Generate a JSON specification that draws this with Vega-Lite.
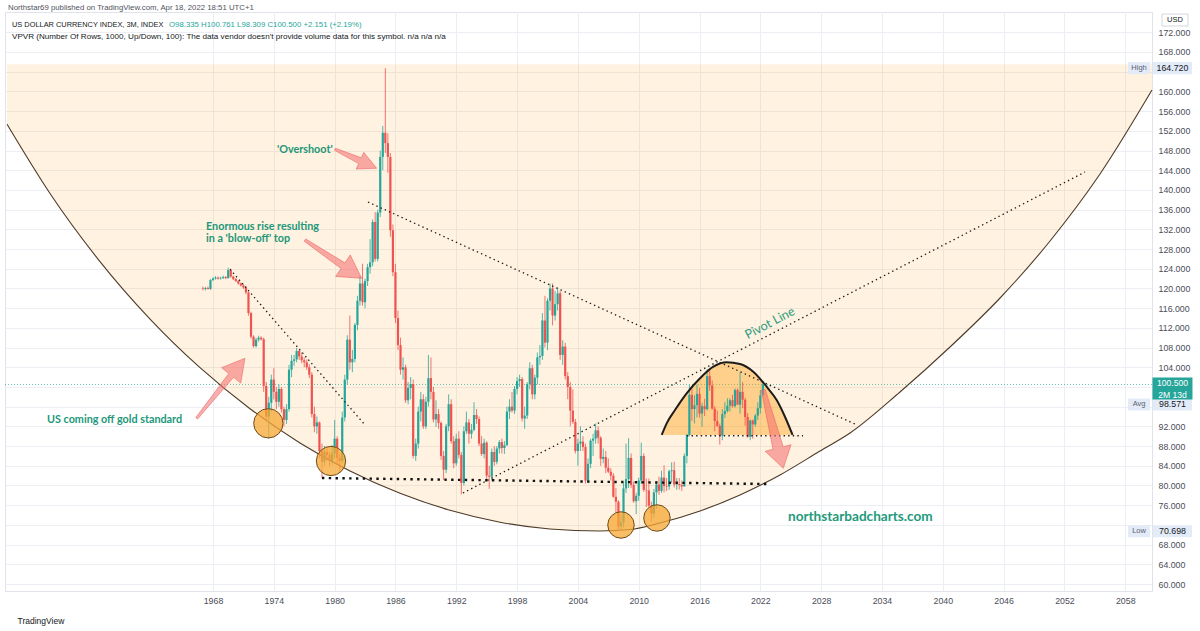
{
  "$schema": "https://vega.github.io/schema/vega-lite/v6.json",
  "width": 1147,
  "height": 579,
  "autosize": {"type": "none"},
  "padding": {"left": 5, "top": 12, "right": 48, "bottom": 40},
  "background": "#ffffff",
  "config": {
    "view": {"stroke": "#e0e3eb", "strokeWidth": 1},
    "font": "Liberation Sans",
    "axis": {"labelOverlap": false, "labelBound": false, "labelFlush": false}
  },
  "title": {
    "text": "Northstar69 published on TradingView.com, Apr 18, 2022 18:51 UTC+1",
    "anchor": "start",
    "frame": "group",
    "fontSize": 7.8,
    "fontWeight": "normal",
    "font": "Liberation Sans",
    "color": "#50535e",
    "offset": 0,
    "dx": 3
  },
  "datasets": {
    "arc": [
      {"t": 1947.68, "p": 153.32}, {"t": 1951.92, "p": 139.27}, {"t": 1956.85, "p": 125.45},
      {"t": 1961.79, "p": 113.78}, {"t": 1966.72, "p": 103.91}, {"t": 1971.65, "p": 95.59},
      {"t": 1976.58, "p": 88.64}, {"t": 1981.52, "p": 82.94}, {"t": 1986.45, "p": 78.41},
      {"t": 1991.38, "p": 74.96}, {"t": 1996.32, "p": 72.55}, {"t": 2001.25, "p": 71.17},
      {"t": 2006.18, "p": 70.76}, {"t": 2009.14, "p": 71.06}, {"t": 2012.10, "p": 72.38},
      {"t": 2016.05, "p": 74.82}, {"t": 2019.99, "p": 78.07}, {"t": 2023.94, "p": 82.13},
      {"t": 2027.89, "p": 87.00}, {"t": 2030.85, "p": 90.65}, {"t": 2035.78, "p": 98.98},
      {"t": 2040.71, "p": 108.11}, {"t": 2045.65, "p": 118.06}, {"t": 2050.58, "p": 129.63},
      {"t": 2055.51, "p": 143.23}, {"t": 2060.64, "p": 160.28}
    ],
    "dome": [
      {"t": 2012.27, "p": 90.25}, {"t": 2012.76, "p": 92.62}, {"t": 2013.58, "p": 95.32},
      {"t": 2014.73, "p": 98.71}, {"t": 2016.05, "p": 101.76}, {"t": 2017.36, "p": 104.11},
      {"t": 2018.67, "p": 105.01}, {"t": 2019.99, "p": 104.66}, {"t": 2021.30, "p": 103.10},
      {"t": 2022.62, "p": 100.05}, {"t": 2023.61, "p": 97.35}, {"t": 2024.43, "p": 93.96},
      {"t": 2025.18, "p": 90.25}
    ],
    "candles": [
      {"t": 1967, "o": 120.0, "h": 120.4, "l": 119.6, "c": 119.9},
      {"t": 1967.25, "o": 119.9, "h": 120.3, "l": 119.6, "c": 120.1},
      {"t": 1967.5, "o": 120.1, "h": 120.4, "l": 119.8, "c": 119.9},
      {"t": 1967.75, "o": 119.9, "h": 121.9, "l": 119.7, "c": 121.7},
      {"t": 1968, "o": 121.7, "h": 122.3, "l": 121.5, "c": 122.0},
      {"t": 1968.25, "o": 122.0, "h": 122.5, "l": 121.8, "c": 122.2},
      {"t": 1968.5, "o": 122.2, "h": 122.4, "l": 121.8, "c": 122.0},
      {"t": 1968.75, "o": 122.0, "h": 122.4, "l": 121.8, "c": 122.1},
      {"t": 1969, "o": 122.1, "h": 122.6, "l": 121.9, "c": 122.3},
      {"t": 1969.25, "o": 122.3, "h": 122.5, "l": 121.9, "c": 122.1},
      {"t": 1969.5, "o": 122.1, "h": 124.2, "l": 122.0, "c": 123.7},
      {"t": 1969.75, "o": 123.7, "h": 124.0, "l": 122.2, "c": 122.4},
      {"t": 1970, "o": 122.4, "h": 122.6, "l": 121.7, "c": 121.9},
      {"t": 1970.25, "o": 121.9, "h": 122.1, "l": 121.3, "c": 121.5},
      {"t": 1970.5, "o": 121.5, "h": 121.7, "l": 120.8, "c": 121.0},
      {"t": 1970.75, "o": 121.0, "h": 121.2, "l": 120.4, "c": 120.6},
      {"t": 1971, "o": 120.6, "h": 120.9, "l": 119.9, "c": 120.2},
      {"t": 1971.25, "o": 120.2, "h": 120.5, "l": 118.8, "c": 119.2},
      {"t": 1971.5, "o": 119.2, "h": 119.4, "l": 114.5, "c": 115.0},
      {"t": 1971.75, "o": 115.0, "h": 115.3, "l": 109.8, "c": 110.2},
      {"t": 1972, "o": 110.2, "h": 110.5, "l": 108.0, "c": 108.3},
      {"t": 1972.25, "o": 108.3, "h": 110.0, "l": 108.0, "c": 109.6},
      {"t": 1972.5, "o": 109.6, "h": 110.4, "l": 109.2, "c": 110.0},
      {"t": 1972.75, "o": 110.0, "h": 110.3, "l": 109.4, "c": 109.7},
      {"t": 1973, "o": 109.7, "h": 110.0, "l": 99.0, "c": 100.2},
      {"t": 1973.25, "o": 100.2, "h": 101.0, "l": 93.0, "c": 94.0},
      {"t": 1973.5, "o": 94.0, "h": 98.0, "l": 89.5, "c": 96.8},
      {"t": 1973.75, "o": 96.8, "h": 102.5, "l": 95.0, "c": 101.5},
      {"t": 1974, "o": 101.5, "h": 103.8, "l": 97.5, "c": 99.0},
      {"t": 1974.25, "o": 99.0, "h": 100.0, "l": 95.5, "c": 97.0},
      {"t": 1974.5, "o": 97.0, "h": 100.5, "l": 96.0, "c": 99.6},
      {"t": 1974.75, "o": 99.6, "h": 100.0, "l": 94.8, "c": 95.5},
      {"t": 1975, "o": 95.5, "h": 96.0, "l": 92.0, "c": 93.3},
      {"t": 1975.25, "o": 93.3, "h": 96.5, "l": 92.5, "c": 95.5},
      {"t": 1975.5, "o": 95.5, "h": 104.5, "l": 95.0, "c": 103.5},
      {"t": 1975.75, "o": 103.5, "h": 106.5, "l": 102.0, "c": 105.3},
      {"t": 1976, "o": 105.3, "h": 106.5, "l": 104.3, "c": 105.6},
      {"t": 1976.25, "o": 105.6, "h": 107.9, "l": 105.0, "c": 107.3},
      {"t": 1976.5, "o": 107.3, "h": 107.6, "l": 105.5, "c": 106.2},
      {"t": 1976.75, "o": 106.2, "h": 107.0, "l": 104.8, "c": 105.4},
      {"t": 1977, "o": 105.4, "h": 106.0, "l": 104.0, "c": 105.0},
      {"t": 1977.25, "o": 105.0, "h": 105.6, "l": 103.5, "c": 104.0},
      {"t": 1977.5, "o": 104.0, "h": 104.6, "l": 101.8, "c": 102.5},
      {"t": 1977.75, "o": 102.5, "h": 103.0, "l": 93.8, "c": 94.5},
      {"t": 1978, "o": 94.5, "h": 96.0, "l": 90.8, "c": 92.0},
      {"t": 1978.25, "o": 92.0, "h": 94.0, "l": 90.5, "c": 92.8},
      {"t": 1978.5, "o": 92.8, "h": 93.0, "l": 85.5, "c": 87.0},
      {"t": 1978.75, "o": 87.0, "h": 88.5, "l": 81.5, "c": 84.8},
      {"t": 1979, "o": 84.8, "h": 88.0, "l": 84.0, "c": 86.8},
      {"t": 1979.25, "o": 86.8, "h": 87.5, "l": 85.0, "c": 86.2},
      {"t": 1979.5, "o": 86.2, "h": 86.8, "l": 83.8, "c": 85.0},
      {"t": 1979.75, "o": 85.0, "h": 88.2, "l": 84.2, "c": 86.5},
      {"t": 1980, "o": 86.5, "h": 93.3, "l": 85.5, "c": 89.5},
      {"t": 1980.25, "o": 89.5, "h": 90.0, "l": 84.3, "c": 85.6},
      {"t": 1980.5, "o": 85.6, "h": 86.5, "l": 82.6, "c": 85.0},
      {"t": 1980.75, "o": 85.0, "h": 95.0, "l": 84.5, "c": 93.8},
      {"t": 1981, "o": 93.8, "h": 102.5, "l": 93.0, "c": 101.5},
      {"t": 1981.25, "o": 101.5, "h": 110.5, "l": 100.5, "c": 109.6},
      {"t": 1981.5, "o": 109.6, "h": 114.5, "l": 103.5, "c": 105.0},
      {"t": 1981.75, "o": 105.0, "h": 107.5, "l": 103.0, "c": 105.7},
      {"t": 1982, "o": 105.7, "h": 113.0, "l": 105.0, "c": 112.6},
      {"t": 1982.25, "o": 112.6, "h": 118.5, "l": 111.5, "c": 117.5},
      {"t": 1982.5, "o": 117.5, "h": 122.5, "l": 116.5, "c": 121.0},
      {"t": 1982.75, "o": 121.0, "h": 125.0, "l": 116.5, "c": 117.2},
      {"t": 1983, "o": 117.2, "h": 122.0, "l": 116.0, "c": 121.5},
      {"t": 1983.25, "o": 121.5, "h": 125.0, "l": 120.5, "c": 124.3},
      {"t": 1983.5, "o": 124.3, "h": 130.0, "l": 123.0, "c": 125.3},
      {"t": 1983.75, "o": 125.3, "h": 134.0, "l": 124.5, "c": 133.5},
      {"t": 1984, "o": 133.5, "h": 135.5, "l": 125.5, "c": 126.0},
      {"t": 1984.25, "o": 126.0, "h": 136.0, "l": 125.5, "c": 135.4},
      {"t": 1984.5, "o": 135.4, "h": 148.0, "l": 134.5, "c": 146.7},
      {"t": 1984.75, "o": 146.7, "h": 153.0, "l": 144.0, "c": 151.6},
      {"t": 1985, "o": 151.6, "h": 164.72, "l": 147.5, "c": 149.5},
      {"t": 1985.25, "o": 149.5, "h": 151.5, "l": 143.5, "c": 146.7},
      {"t": 1985.5, "o": 146.7, "h": 147.5, "l": 130.5, "c": 131.8},
      {"t": 1985.75, "o": 131.8, "h": 133.0, "l": 122.5, "c": 123.3},
      {"t": 1986, "o": 123.3, "h": 125.0, "l": 113.0, "c": 114.0},
      {"t": 1986.25, "o": 114.0, "h": 115.5, "l": 107.5, "c": 108.5},
      {"t": 1986.5, "o": 108.5, "h": 110.0, "l": 102.5, "c": 103.5},
      {"t": 1986.75, "o": 103.5, "h": 106.0, "l": 101.5, "c": 104.0},
      {"t": 1987, "o": 104.0, "h": 104.5, "l": 96.8, "c": 97.3},
      {"t": 1987.25, "o": 97.3, "h": 101.0, "l": 96.5, "c": 99.8},
      {"t": 1987.5, "o": 99.8, "h": 102.0, "l": 97.5, "c": 100.6},
      {"t": 1987.75, "o": 100.6, "h": 101.5, "l": 85.5, "c": 86.0},
      {"t": 1988, "o": 86.0, "h": 89.5, "l": 85.0, "c": 88.5},
      {"t": 1988.25, "o": 88.5, "h": 96.0, "l": 87.5, "c": 95.0},
      {"t": 1988.5, "o": 95.0, "h": 99.0, "l": 93.0, "c": 97.5},
      {"t": 1988.75, "o": 97.5, "h": 98.5, "l": 91.5, "c": 92.0},
      {"t": 1989, "o": 92.0, "h": 98.0, "l": 91.5, "c": 97.0},
      {"t": 1989.25, "o": 97.0, "h": 106.5, "l": 96.0, "c": 101.8},
      {"t": 1989.5, "o": 101.8, "h": 106.0, "l": 97.5, "c": 99.0},
      {"t": 1989.75, "o": 99.0, "h": 100.0, "l": 92.8, "c": 93.4},
      {"t": 1990, "o": 93.4, "h": 97.3, "l": 91.9, "c": 94.5},
      {"t": 1990.25, "o": 94.5, "h": 95.5, "l": 91.5, "c": 92.7},
      {"t": 1990.5, "o": 92.7, "h": 93.0, "l": 85.2, "c": 86.0},
      {"t": 1990.75, "o": 86.0, "h": 87.0, "l": 81.1, "c": 83.2},
      {"t": 1991, "o": 83.2, "h": 92.5, "l": 82.5, "c": 92.0},
      {"t": 1991.25, "o": 92.0, "h": 98.5, "l": 91.0, "c": 96.5},
      {"t": 1991.5, "o": 96.5, "h": 97.5, "l": 88.5, "c": 89.0},
      {"t": 1991.75, "o": 89.0, "h": 90.0, "l": 83.5, "c": 84.5},
      {"t": 1992, "o": 84.5, "h": 90.5, "l": 84.0, "c": 89.5},
      {"t": 1992.25, "o": 89.5, "h": 91.0, "l": 85.5, "c": 86.2},
      {"t": 1992.5, "o": 86.2, "h": 86.8, "l": 78.2, "c": 80.5},
      {"t": 1992.75, "o": 80.5, "h": 92.0, "l": 80.0, "c": 91.0},
      {"t": 1993, "o": 91.0, "h": 95.0, "l": 90.5, "c": 92.8},
      {"t": 1993.25, "o": 92.8, "h": 93.5, "l": 88.5, "c": 90.5},
      {"t": 1993.5, "o": 90.5, "h": 92.5, "l": 89.5, "c": 91.3},
      {"t": 1993.75, "o": 91.3, "h": 96.9, "l": 91.0, "c": 94.3},
      {"t": 1994, "o": 94.3, "h": 95.5, "l": 92.5, "c": 93.5},
      {"t": 1994.25, "o": 93.5, "h": 94.0, "l": 88.0, "c": 88.5},
      {"t": 1994.5, "o": 88.5, "h": 90.0, "l": 86.0, "c": 86.4},
      {"t": 1994.75, "o": 86.4, "h": 89.5, "l": 85.5, "c": 88.7},
      {"t": 1995, "o": 88.7, "h": 89.0, "l": 81.0, "c": 82.0},
      {"t": 1995.25, "o": 82.0, "h": 84.0, "l": 79.3, "c": 81.8},
      {"t": 1995.5, "o": 81.8, "h": 87.5, "l": 81.0, "c": 86.8},
      {"t": 1995.75, "o": 86.8, "h": 88.0, "l": 84.0, "c": 84.8},
      {"t": 1996, "o": 84.8, "h": 88.0, "l": 84.3, "c": 87.5},
      {"t": 1996.25, "o": 87.5, "h": 89.2, "l": 86.5, "c": 88.8},
      {"t": 1996.5, "o": 88.8, "h": 89.5, "l": 86.5, "c": 87.6},
      {"t": 1996.75, "o": 87.6, "h": 89.0, "l": 86.4, "c": 88.2},
      {"t": 1997, "o": 88.2, "h": 96.0, "l": 88.0, "c": 95.0},
      {"t": 1997.25, "o": 95.0, "h": 97.5, "l": 93.5, "c": 96.0},
      {"t": 1997.5, "o": 96.0, "h": 99.0, "l": 94.8, "c": 95.2},
      {"t": 1997.75, "o": 95.2, "h": 100.2, "l": 94.5, "c": 99.6},
      {"t": 1998, "o": 99.6, "h": 102.0, "l": 98.5, "c": 101.2},
      {"t": 1998.25, "o": 101.2, "h": 102.5, "l": 100.0, "c": 101.6},
      {"t": 1998.5, "o": 101.6, "h": 102.0, "l": 93.0, "c": 93.6},
      {"t": 1998.75, "o": 93.6, "h": 96.0, "l": 91.5, "c": 94.2},
      {"t": 1999, "o": 94.2, "h": 101.0, "l": 93.5, "c": 100.6},
      {"t": 1999.25, "o": 100.6, "h": 105.0, "l": 99.5, "c": 103.8},
      {"t": 1999.5, "o": 103.8, "h": 104.5, "l": 97.5, "c": 98.5},
      {"t": 1999.75, "o": 98.5, "h": 102.5, "l": 97.5, "c": 101.9},
      {"t": 2000, "o": 101.9, "h": 107.0, "l": 100.5, "c": 106.0},
      {"t": 2000.25, "o": 106.0, "h": 108.5, "l": 104.5, "c": 106.3},
      {"t": 2000.5, "o": 106.3, "h": 115.0, "l": 105.5, "c": 113.5},
      {"t": 2000.75, "o": 113.5, "h": 118.5, "l": 108.0, "c": 109.0},
      {"t": 2001, "o": 109.0, "h": 118.0, "l": 107.5, "c": 117.5},
      {"t": 2001.25, "o": 117.5, "h": 121.0, "l": 115.5, "c": 120.0},
      {"t": 2001.5, "o": 120.0, "h": 121.0, "l": 112.5, "c": 114.5},
      {"t": 2001.75, "o": 114.5, "h": 119.5, "l": 113.5, "c": 116.8},
      {"t": 2002, "o": 116.8, "h": 120.2, "l": 115.5, "c": 119.0},
      {"t": 2002.25, "o": 119.0, "h": 119.5, "l": 105.5, "c": 106.5},
      {"t": 2002.5, "o": 106.5, "h": 109.5, "l": 104.5, "c": 108.2},
      {"t": 2002.75, "o": 108.2, "h": 109.0, "l": 101.5, "c": 102.2},
      {"t": 2003, "o": 102.2, "h": 103.0, "l": 97.5, "c": 100.0},
      {"t": 2003.25, "o": 100.0, "h": 101.0, "l": 92.0, "c": 95.2},
      {"t": 2003.5, "o": 95.2, "h": 99.5, "l": 92.5, "c": 92.9},
      {"t": 2003.75, "o": 92.9, "h": 93.5, "l": 86.5, "c": 87.0},
      {"t": 2004, "o": 87.0, "h": 89.5, "l": 84.0, "c": 88.5},
      {"t": 2004.25, "o": 88.5, "h": 92.0, "l": 87.0, "c": 88.9},
      {"t": 2004.5, "o": 88.9, "h": 90.0, "l": 87.0, "c": 87.8},
      {"t": 2004.75, "o": 87.8, "h": 88.5, "l": 80.4, "c": 81.0},
      {"t": 2005, "o": 81.0, "h": 85.5, "l": 80.5, "c": 84.4},
      {"t": 2005.25, "o": 84.4, "h": 89.5, "l": 83.5, "c": 89.1},
      {"t": 2005.5, "o": 89.1, "h": 90.5, "l": 86.0, "c": 89.5},
      {"t": 2005.75, "o": 89.5, "h": 92.6, "l": 88.5, "c": 91.2},
      {"t": 2006, "o": 91.2, "h": 92.0, "l": 88.5, "c": 89.7},
      {"t": 2006.25, "o": 89.7, "h": 90.0, "l": 84.0, "c": 85.4},
      {"t": 2006.5, "o": 85.4, "h": 87.5, "l": 84.5, "c": 85.8},
      {"t": 2006.75, "o": 85.8, "h": 87.0, "l": 82.5, "c": 83.6},
      {"t": 2007, "o": 83.6, "h": 85.5, "l": 82.5, "c": 82.8},
      {"t": 2007.25, "o": 82.8, "h": 83.5, "l": 81.0, "c": 82.0},
      {"t": 2007.5, "o": 82.0, "h": 82.5, "l": 77.5, "c": 77.7},
      {"t": 2007.75, "o": 77.7, "h": 79.5, "l": 74.5, "c": 76.7},
      {"t": 2008, "o": 76.7, "h": 77.0, "l": 70.698, "c": 71.7},
      {"t": 2008.25, "o": 71.7, "h": 74.0, "l": 71.0, "c": 72.5},
      {"t": 2008.5, "o": 72.5, "h": 80.5, "l": 71.5, "c": 79.4},
      {"t": 2008.75, "o": 79.4, "h": 88.5, "l": 78.5, "c": 81.3},
      {"t": 2009, "o": 81.3, "h": 89.6, "l": 79.5, "c": 85.6},
      {"t": 2009.25, "o": 85.6, "h": 86.5, "l": 79.5, "c": 80.1},
      {"t": 2009.5, "o": 80.1, "h": 80.8, "l": 76.5, "c": 76.8},
      {"t": 2009.75, "o": 76.8, "h": 78.5, "l": 74.2, "c": 77.9},
      {"t": 2010, "o": 77.9, "h": 81.6, "l": 76.9, "c": 81.0},
      {"t": 2010.25, "o": 81.0, "h": 88.7, "l": 80.3, "c": 86.0},
      {"t": 2010.5, "o": 86.0, "h": 86.5, "l": 78.7, "c": 79.1},
      {"t": 2010.75, "o": 79.1, "h": 81.4, "l": 75.6, "c": 79.0},
      {"t": 2011, "o": 79.0, "h": 81.4, "l": 75.6, "c": 75.9},
      {"t": 2011.25, "o": 75.9, "h": 76.7, "l": 72.7, "c": 74.3},
      {"t": 2011.5, "o": 74.3, "h": 79.3, "l": 73.4, "c": 78.6},
      {"t": 2011.75, "o": 78.6, "h": 80.9, "l": 75.3, "c": 80.2},
      {"t": 2012, "o": 80.2, "h": 81.8, "l": 78.1, "c": 78.9},
      {"t": 2012.25, "o": 78.9, "h": 83.0, "l": 78.5, "c": 81.6},
      {"t": 2012.5, "o": 81.6, "h": 84.1, "l": 78.6, "c": 79.9},
      {"t": 2012.75, "o": 79.9, "h": 81.5, "l": 78.9, "c": 79.8},
      {"t": 2013, "o": 79.8, "h": 83.2, "l": 79.1, "c": 82.9},
      {"t": 2013.25, "o": 82.9, "h": 84.7, "l": 80.6, "c": 83.1},
      {"t": 2013.5, "o": 83.1, "h": 84.8, "l": 79.6, "c": 80.2},
      {"t": 2013.75, "o": 80.2, "h": 81.5, "l": 79.1, "c": 80.3},
      {"t": 2014, "o": 80.3, "h": 81.5, "l": 79.2, "c": 80.1},
      {"t": 2014.25, "o": 80.1, "h": 81.0, "l": 78.9, "c": 79.8},
      {"t": 2014.5, "o": 79.8, "h": 86.5, "l": 79.8, "c": 86.0},
      {"t": 2014.75, "o": 86.0, "h": 90.4, "l": 84.5, "c": 90.3},
      {"t": 2015, "o": 90.3, "h": 100.4, "l": 90.0, "c": 98.4},
      {"t": 2015.25, "o": 98.4, "h": 100.0, "l": 93.1, "c": 95.5},
      {"t": 2015.5, "o": 95.5, "h": 98.3, "l": 92.6, "c": 96.3},
      {"t": 2015.75, "o": 96.3, "h": 100.5, "l": 93.8, "c": 98.6},
      {"t": 2016, "o": 98.6, "h": 99.8, "l": 93.8, "c": 94.6},
      {"t": 2016.25, "o": 94.6, "h": 96.8, "l": 91.9, "c": 96.1},
      {"t": 2016.5, "o": 96.1, "h": 97.6, "l": 94.1, "c": 95.5},
      {"t": 2016.75, "o": 95.5, "h": 103.6, "l": 95.2, "c": 102.2},
      {"t": 2017, "o": 102.2, "h": 103.8, "l": 99.2, "c": 100.3},
      {"t": 2017.25, "o": 100.3, "h": 101.3, "l": 95.4, "c": 95.6},
      {"t": 2017.5, "o": 95.6, "h": 96.1, "l": 91.0, "c": 93.1},
      {"t": 2017.75, "o": 93.1, "h": 95.2, "l": 91.9, "c": 92.1},
      {"t": 2018, "o": 92.1, "h": 92.6, "l": 88.3, "c": 90.1},
      {"t": 2018.25, "o": 90.1, "h": 95.5, "l": 89.2, "c": 94.5},
      {"t": 2018.5, "o": 94.5, "h": 96.9, "l": 93.7, "c": 95.1},
      {"t": 2018.75, "o": 95.1, "h": 97.7, "l": 94.8, "c": 96.2},
      {"t": 2019, "o": 96.2, "h": 97.7, "l": 95.0, "c": 97.3},
      {"t": 2019.25, "o": 97.3, "h": 98.4, "l": 95.8, "c": 96.1},
      {"t": 2019.5, "o": 96.1, "h": 99.7, "l": 95.8, "c": 99.4},
      {"t": 2019.75, "o": 99.4, "h": 99.7, "l": 96.4, "c": 96.4},
      {"t": 2020, "o": 96.4, "h": 103.0, "l": 94.6, "c": 99.0},
      {"t": 2020.25, "o": 99.0, "h": 101.0, "l": 95.7, "c": 97.4},
      {"t": 2020.5, "o": 97.4, "h": 97.8, "l": 92.1, "c": 93.9},
      {"t": 2020.75, "o": 93.9, "h": 94.7, "l": 89.7, "c": 89.9},
      {"t": 2021, "o": 89.9, "h": 93.4, "l": 89.2, "c": 93.2},
      {"t": 2021.25, "o": 93.2, "h": 93.4, "l": 89.5, "c": 92.4},
      {"t": 2021.5, "o": 92.4, "h": 94.5, "l": 91.9, "c": 94.2},
      {"t": 2021.75, "o": 94.2, "h": 96.9, "l": 93.3, "c": 95.7},
      {"t": 2022, "o": 95.7, "h": 99.4, "l": 94.6, "c": 98.3},
      {"t": 2022.25, "o": 98.335, "h": 100.761, "l": 98.309, "c": 100.5}
    ]
  },
  "layer": [
    {
      "data": {"name": "candles"},
      "mark": {"type": "rule", "strokeWidth": 0, "opacity": 0},
      "encoding": {
        "x": {
          "field": "t", "type": "quantitative",
          "scale": {"domain": [1947.479, 2060.64], "nice": false, "zero": false},
          "axis": {
            "values": [1968, 1974, 1980, 1986, 1992, 1998, 2004, 2010, 2016, 2022, 2028, 2034, 2040, 2046, 2052, 2058],
            "tickCount": 100,
            "format": "d",
            "title": "TradingView",
            "titleAnchor": "start",
            "titleAlign": "left",
            "titleBaseline": "middle",
            "titleX": 12,
            "titleY": 29,
            "titleFont": "Liberation Sans",
            "titleFontSize": 8.5,
            "titleFontWeight": "normal",
            "titleColor": "#131722",
            "labelFont": "Liberation Sans",
            "labelFontSize": 8.8,
            "labelColor": "#4a4d57",
            "labelPadding": 5,
            "labelOverlap": false,
            "ticks": false,
            "domainColor": "#e0e3eb",
            "grid": true,
            "gridColor": "#eceef3"
          }
        },
        "y": {
          "field": "l", "type": "quantitative",
          "scale": {"domain": [58.579, 176.12], "nice": false, "zero": false},
          "axis": {
            "orient": "right",
            "values": [60, 64, 68, 72, 76, 80, 84, 88, 92, 96, 100, 104, 108, 112, 116, 120, 124, 128, 132, 136, 140, 144, 148, 152, 156, 160, 164, 168, 172],
            "tickCount": 100,
            "format": ".3f",
            "labelExpr": "indexof([72, 96, 100, 164], datum.value) >= 0 ? '' : datum.label",
            "title": "",
            "labelFont": "Liberation Sans",
            "labelFontSize": 8.8,
            "labelColor": "#4a4d57",
            "labelPadding": 6,
            "labelOverlap": false,
            "ticks": false,
            "domainColor": "#e0e3eb",
            "grid": true,
            "gridColor": "#eceef3"
          }
        },
        "y2": {"field": "h"}
      }
    },
    {
      "data": {"name": "arc"},
      "mark": {"type": "area", "color": "#ff9800", "opacity": 0.12, "interpolate": "monotone"},
      "encoding": {
        "x": {"field": "t", "type": "quantitative"},
        "y": {"field": "p", "type": "quantitative"},
        "y2": {"datum": 165.5}
      }
    },
    {
      "data": {"values": [{"p": 100.5}]},
      "mark": {"type": "rule", "color": "#26a69a", "strokeDash": [1, 2], "strokeWidth": 1, "opacity": 0.7},
      "encoding": {
        "y": {"field": "p", "type": "quantitative"}
      }
    },
    {
      "data": {"name": "arc"},
      "mark": {"type": "line", "color": "#4d3a28", "strokeWidth": 1.1, "interpolate": "monotone"},
      "encoding": {
        "x": {"field": "t", "type": "quantitative"},
        "y": {"field": "p", "type": "quantitative"}
      }
    },
    {
      "data": {"name": "dome"},
      "mark": {"type": "area", "color": "#ff9800", "opacity": 0.38, "interpolate": "monotone"},
      "encoding": {
        "x": {"field": "t", "type": "quantitative"},
        "y": {"field": "p", "type": "quantitative"},
        "y2": {"datum": 90.25}
      }
    },
    {
      "data": {"name": "candles"},
      "mark": {"type": "rule", "strokeWidth": 1, "opacity": 0.8},
      "encoding": {
        "x": {"field": "t", "type": "quantitative"},
        "y": {"field": "l", "type": "quantitative"},
        "y2": {"field": "h"},
        "color": {"condition": {"test": "datum.c >= datum.o", "value": "#26a69a"}, "value": "#ef5350"}
      }
    },
    {
      "data": {"name": "candles"},
      "mark": {"type": "rule", "strokeWidth": 2.2},
      "encoding": {
        "x": {"field": "t", "type": "quantitative"},
        "y": {"field": "o", "type": "quantitative"},
        "y2": {"field": "c"},
        "color": {"condition": {"test": "datum.c >= datum.o", "value": "#26a69a"}, "value": "#ef5350"}
      }
    },
    {
      "data": {"name": "dome"},
      "mark": {"type": "line", "color": "#1c1c1c", "strokeWidth": 2, "interpolate": "monotone"},
      "encoding": {
        "x": {"field": "t", "type": "quantitative"},
        "y": {"field": "p", "type": "quantitative"}
      }
    },
    {
      "data": {"values": [
        {"t": 1969.68, "p": 123.89, "t2": 1983.00, "p2": 92.28},
        {"t": 1983.29, "p": 137.55, "t2": 2031.54, "p2": 92.28},
        {"t": 1992.66, "p": 78.47, "t2": 2054.03, "p2": 143.64},
        {"t": 2014.76, "p": 90.1, "t2": 2026.21, "p2": 90.1}
      ]},
      "mark": {"type": "rule", "color": "#1b1b1b", "strokeDash": [1.4, 3.2], "strokeWidth": 1.3},
      "encoding": {
        "x": {"field": "t", "type": "quantitative"},
        "y": {"field": "p", "type": "quantitative"},
        "x2": {"field": "t2"},
        "y2": {"field": "p2"}
      }
    },
    {
      "data": {"values": [{"t": 1978.75, "p": 81.52, "t2": 2022.66, "p2": 80.30}]},
      "mark": {"type": "rule", "color": "#111111", "strokeDash": [2.4, 4.4], "strokeWidth": 2.4},
      "encoding": {
        "x": {"field": "t", "type": "quantitative"},
        "y": {"field": "p", "type": "quantitative"},
        "x2": {"field": "t2"},
        "y2": {"field": "p2"}
      }
    },
    {
      "data": {"values": [{"t": 1973.46, "p": 92.62}, {"t": 1979.64, "p": 84.97}]},
      "mark": {"type": "point", "shape": "circle", "filled": true, "size": 860, "fill": "#f7a733", "fillOpacity": 0.75, "stroke": "#6e4b1c", "strokeWidth": 1, "strokeOpacity": 1, "opacity": 1},
      "encoding": {
        "x": {"field": "t", "type": "quantitative"},
        "y": {"field": "p", "type": "quantitative"}
      }
    },
    {
      "data": {"values": [{"t": 2008.25, "p": 71.98}, {"t": 2011.80, "p": 73.40}]},
      "mark": {"type": "point", "shape": "circle", "filled": true, "size": 700, "fill": "#f7a733", "fillOpacity": 0.75, "stroke": "#6e4b1c", "strokeWidth": 1, "strokeOpacity": 1, "opacity": 1},
      "encoding": {
        "x": {"field": "t", "type": "quantitative"},
        "y": {"field": "p", "type": "quantitative"}
      }
    },
    {
      "data": {"values": [{"t": 1968.77, "p": 99.73}]},
      "mark": {"type": "point", "filled": true, "shape": "M0,-1 L0.32,-0.43 L0.08,-0.43 L0.03,1 L-0.03,1 L-0.08,-0.43 L-0.32,-0.43 Z", "size": 5929, "angle": 38.8, "fill": "#f26b6b", "fillOpacity": 0.55, "stroke": "#e85d5d", "strokeWidth": 0.7, "strokeOpacity": 0.7, "opacity": 1},
      "encoding": {
        "x": {"field": "t", "type": "quantitative"},
        "y": {"field": "p", "type": "quantitative"}
      }
    },
    {
      "data": {"values": [{"t": 1979.87, "p": 125.94}]},
      "mark": {"type": "point", "filled": true, "shape": "M0,-1 L0.38,-0.34 L0.1,-0.34 L0.04,1 L-0.04,1 L-0.1,-0.34 L-0.38,-0.34 Z", "size": 4679, "angle": 124, "fill": "#f26b6b", "fillOpacity": 0.55, "stroke": "#e85d5d", "strokeWidth": 0.7, "strokeOpacity": 0.7, "opacity": 1},
      "encoding": {
        "x": {"field": "t", "type": "quantitative"},
        "y": {"field": "p", "type": "quantitative"}
      }
    },
    {
      "data": {"values": [{"t": 1982.09, "p": 146.32}]},
      "mark": {"type": "point", "filled": true, "shape": "M0,-1 L0.4,-0.2 L0.14,-0.2 L0.05,1 L-0.05,1 L-0.14,-0.2 L-0.4,-0.2 Z", "size": 2098, "angle": 114.5, "fill": "#f26b6b", "fillOpacity": 0.55, "stroke": "#e85d5d", "strokeWidth": 0.7, "strokeOpacity": 0.7, "opacity": 1},
      "encoding": {
        "x": {"field": "t", "type": "quantitative"},
        "y": {"field": "p", "type": "quantitative"}
      }
    },
    {
      "data": {"values": [{"t": 2023.28, "p": 91.43}]},
      "mark": {"type": "point", "filled": true, "shape": "M0,-1 L0.33,-0.48 L0.13,-0.48 L0.05,1 L-0.05,1 L-0.13,-0.48 L-0.33,-0.48 Z", "size": 6529, "angle": 165.7, "fill": "#f26b6b", "fillOpacity": 0.55, "stroke": "#e85d5d", "strokeWidth": 0.7, "strokeOpacity": 0.7, "opacity": 1},
      "encoding": {
        "x": {"field": "t", "type": "quantitative"},
        "y": {"field": "p", "type": "quantitative"}
      }
    },
    {
      "data": {"values": [
        {"t": 1951.62, "p": 93.29, "label": "US coming off gold standard"},
        {"t": 1967.31, "p": 132.47, "label": "Enormous rise resulting"},
        {"t": 1967.31, "p": 130.04, "label": "in a 'blow-off' top"},
        {"t": 1974.31, "p": 148.1, "label": "'Overshoot'"}
      ]},
      "mark": {"type": "text", "align": "left", "baseline": "middle", "font": "Lato", "fontSize": 10.8, "fontWeight": "bold", "color": "#22977a"},
      "encoding": {
        "x": {"field": "t", "type": "quantitative"},
        "y": {"field": "p", "type": "quantitative"},
        "text": {"field": "label"}
      }
    },
    {
      "data": {"values": [{"t": 2024.73, "p": 73.6, "label": "northstarbadcharts.com"}]},
      "mark": {"type": "text", "align": "left", "baseline": "middle", "font": "Lato", "fontSize": 13.6, "fontWeight": "bold", "color": "#1f9a7c"},
      "encoding": {
        "x": {"field": "t", "type": "quantitative"},
        "y": {"field": "p", "type": "quantitative"},
        "text": {"field": "label"}
      }
    },
    {
      "data": {"values": [{"t": 2022.95, "p": 112.98, "label": "Pivot Line"}]},
      "mark": {"type": "text", "align": "center", "baseline": "middle", "font": "Lato", "fontSize": 12.5, "angle": -28, "color": "#2e9a7f"},
      "encoding": {
        "x": {"field": "t", "type": "quantitative"},
        "y": {"field": "p", "type": "quantitative"},
        "text": {"field": "label"}
      }
    },
    {
      "data": {"values": [{"t": 1948.17, "p": 173.48, "label": "US DOLLAR CURRENCY INDEX, 3M, INDEX"}]},
      "mark": {"type": "text", "align": "left", "baseline": "middle", "font": "Liberation Sans", "fontSize": 7.4, "color": "#131722"},
      "encoding": {
        "x": {"field": "t", "type": "quantitative"},
        "y": {"field": "p", "type": "quantitative"},
        "text": {"field": "label"}
      }
    },
    {
      "data": {"values": [{"t": 1948.17, "p": 171.04, "label": "VPVR (Number Of Rows, 1000, Up/Down, 100): The data vendor doesn't provide volume data for this symbol.  n/a  n/a  n/a"}]},
      "mark": {"type": "text", "align": "left", "baseline": "middle", "font": "Liberation Sans", "fontSize": 8.1, "color": "#131722"},
      "encoding": {
        "x": {"field": "t", "type": "quantitative"},
        "y": {"field": "p", "type": "quantitative"},
        "text": {"field": "label"}
      }
    },
    {
      "data": {"values": [{"t": 1963.66, "p": 173.48, "label": "O98.335  H100.761  L98.309  C100.500  +2.151 (+2.19%)"}]},
      "mark": {"type": "text", "align": "left", "baseline": "middle", "font": "Liberation Sans", "fontSize": 7.8, "color": "#26a69a"},
      "encoding": {
        "x": {"field": "t", "type": "quantitative"},
        "y": {"field": "p", "type": "quantitative"},
        "text": {"field": "label"}
      }
    },
    {
      "data": {"values": [{"t": 2062.66, "p": 164.72}, {"t": 2062.66, "p": 96.44}, {"t": 2062.66, "p": 70.698}]},
      "mark": {"type": "point", "filled": true, "shape": "M-1,-0.31 L1,-0.31 L1,0.31 L-1,0.31 Z", "size": 1521, "fill": "#e3ebf8", "opacity": 1},
      "encoding": {
        "x": {"field": "t", "type": "quantitative"},
        "y": {"field": "p", "type": "quantitative"}
      }
    },
    {
      "data": {"values": [
        {"t": 2062.66, "p": 164.72, "label": "164.720"},
        {"t": 2062.66, "p": 96.44, "label": "98.571"},
        {"t": 2062.66, "p": 70.698, "label": "70.698"}
      ]},
      "mark": {"type": "text", "align": "center", "baseline": "middle", "font": "Liberation Sans", "fontSize": 8.8, "color": "#131722"},
      "encoding": {
        "x": {"field": "t", "type": "quantitative"},
        "y": {"field": "p", "type": "quantitative"},
        "text": {"field": "label"}
      }
    },
    {
      "data": {"values": [{"t": 2059.36, "p": 164.72}, {"t": 2059.36, "p": 96.44}, {"t": 2059.36, "p": 70.698}]},
      "mark": {"type": "point", "filled": true, "shape": "M-1,-0.545 L1,-0.545 L1,0.545 L-1,0.545 Z", "size": 484, "fill": "#e3ebf8", "opacity": 1},
      "encoding": {
        "x": {"field": "t", "type": "quantitative"},
        "y": {"field": "p", "type": "quantitative"}
      }
    },
    {
      "data": {"values": [
        {"t": 2059.36, "p": 164.72, "label": "High"},
        {"t": 2059.36, "p": 96.44, "label": "Avg"},
        {"t": 2059.36, "p": 70.698, "label": "Low"}
      ]},
      "mark": {"type": "text", "align": "center", "baseline": "middle", "font": "Liberation Sans", "fontSize": 7.5, "color": "#5d606b"},
      "encoding": {
        "x": {"field": "t", "type": "quantitative"},
        "y": {"field": "p", "type": "quantitative"},
        "text": {"field": "label"}
      }
    },
    {
      "data": {"values": [{"t": 2062.66, "p": 99.69}]},
      "mark": {"type": "point", "filled": true, "shape": "M-1,-0.55 L1,-0.55 L1,0.55 L-1,0.55 Z", "size": 1600, "fill": "#26a69a", "opacity": 1},
      "encoding": {
        "x": {"field": "t", "type": "quantitative"},
        "y": {"field": "p", "type": "quantitative"}
      }
    },
    {
      "data": {"values": [
        {"t": 2062.66, "p": 100.85, "label": "100.500"},
        {"t": 2062.66, "p": 98.4, "label": "2M 13d"}
      ]},
      "mark": {"type": "text", "align": "center", "baseline": "middle", "font": "Liberation Sans", "fontSize": 8.6, "color": "#ffffff"},
      "encoding": {
        "x": {"field": "t", "type": "quantitative"},
        "y": {"field": "p", "type": "quantitative"},
        "text": {"field": "label"}
      }
    },
    {
      "data": {"values": [{"t": 2062.91, "p": 174.49}]},
      "mark": {"type": "point", "filled": true, "shape": "M-1,-0.46 L1,-0.46 L1,0.46 L-1,0.46 Z", "size": 676, "fill": "#ffffff", "stroke": "#c9ccd6", "strokeWidth": 0.8, "opacity": 1},
      "encoding": {
        "x": {"field": "t", "type": "quantitative"},
        "y": {"field": "p", "type": "quantitative"}
      }
    },
    {
      "data": {"values": [{"t": 2062.91, "p": 174.49, "label": "USD"}]},
      "mark": {"type": "text", "align": "center", "baseline": "middle", "font": "Liberation Sans", "fontSize": 7.5, "color": "#131722"},
      "encoding": {
        "x": {"field": "t", "type": "quantitative"},
        "y": {"field": "p", "type": "quantitative"},
        "text": {"field": "label"}
      }
    }
  ]
}
